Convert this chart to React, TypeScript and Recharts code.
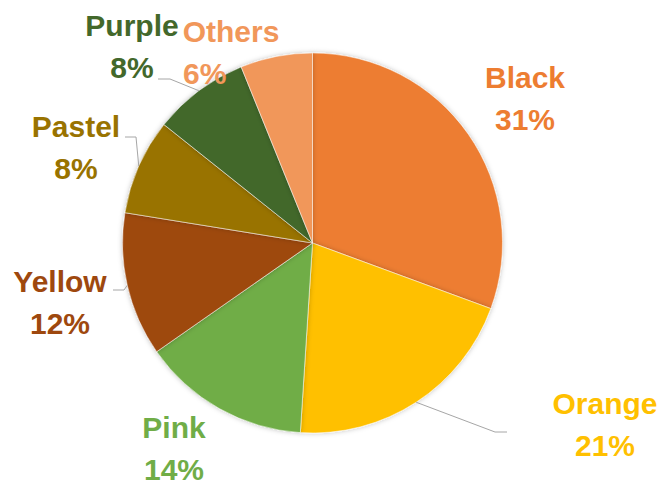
import { PieChart, Pie, Cell } from 'recharts'

const categories = ['Black', 'Orange', 'Pink', 'Yellow', 'Pastel', 'Purple', 'Others']
// slice sizes
const shares = [15, 10, 7, 6, 4, 4, 3]
// percent texts as printed on the chart
const percentLabels = ['31%', '21%', '14%', '12%', '8%', '8%', '6%']
const colors = ['#ED7D31', '#FFC000', '#70AD47', '#9E480E', '#997300', '#43682B', '#F1975A']

const data = categories.map((name, i) => ({ name, value: shares[i] }))

// hand-placed label spots (like Excel's dragged data labels)
// x/y = first line centre + baseline, x2 = second line x, anchor2 = its anchor, elbow = leader line bend points
const labelSpots = [
  { x: 525, y: 88, x2: 525, anchor2: 'middle', elbow: null },
  { x: 605, y: 414, x2: 605, anchor2: 'middle', elbow: [[495, 432], [507, 432]] },
  { x: 174, y: 438, x2: 174, anchor2: 'middle', elbow: null },
  { x: 60, y: 292, x2: 60, anchor2: 'middle', elbow: [[124, 290], [113, 290]] },
  { x: 76, y: 137, x2: 76, anchor2: 'middle', elbow: [[136, 137], [125, 137]] },
  { x: 132, y: 36, x2: 132, anchor2: 'middle', elbow: [[170, 79], [158, 79]] },
  { x: 231, y: 42, x2: 183, anchor2: 'start', elbow: null },
]

const RAD = Math.PI / 180
const FONT = "'Liberation Sans', Arial, sans-serif"

const renderLabel = (props: any) => {
  const { cx, cy, midAngle, outerRadius, index, name } = props
  const spot = labelSpots[index]
  const color = colors[index]
  let leader = null
  if (spot.elbow) {
    const ex = cx + outerRadius * Math.cos(-midAngle * RAD)
    const ey = cy + outerRadius * Math.sin(-midAngle * RAD)
    const pts = [[ex, ey], ...spot.elbow].map((p) => p.join(',')).join(' ')
    leader = <polyline points={pts} fill="none" stroke="#A6A6A6" strokeWidth={1} />
  }
  return (
    <g key={`lbl-${index}`}>
      {leader}
      <text x={spot.x} y={spot.y} fill={color} textAnchor="middle" fontFamily={FONT} fontWeight="bold" fontSize={30}>
        {name}
      </text>
      <text x={spot.x2} y={spot.y + 42} fill={color} textAnchor={spot.anchor2} fontFamily={FONT} fontWeight="bold" fontSize={30}>
        {percentLabels[index]}
      </text>
    </g>
  )
}

export default function App() {
  return (
    <div style={{ position: 'absolute', left: 0, top: 0, background: '#fff' }}>
      <PieChart width={661} height={482} margin={{ top: 0, right: 0, bottom: 0, left: 0 }}>
        <defs>
          <filter id="pieShadow" x="-20%" y="-20%" width="140%" height="140%">
            <feDropShadow dx="0" dy="0" stdDeviation="2.5" floodColor="#000" floodOpacity="0.25" />
          </filter>
        </defs>
        <Pie
          data={data}
          dataKey="value"
          nameKey="name"
          cx={312.5}
          cy={243}
          outerRadius={190}
          startAngle={90}
          endAngle={-270}
          stroke="#ffffff"
          strokeWidth={0.5}
          label={renderLabel}
          labelLine={false}
          isAnimationActive={false}
          style={{ filter: 'url(#pieShadow)' }}
        >
          {data.map((entry, i) => (
            <Cell key={entry.name} fill={colors[i]} />
          ))}
        </Pie>
      </PieChart>
    </div>
  )
}
